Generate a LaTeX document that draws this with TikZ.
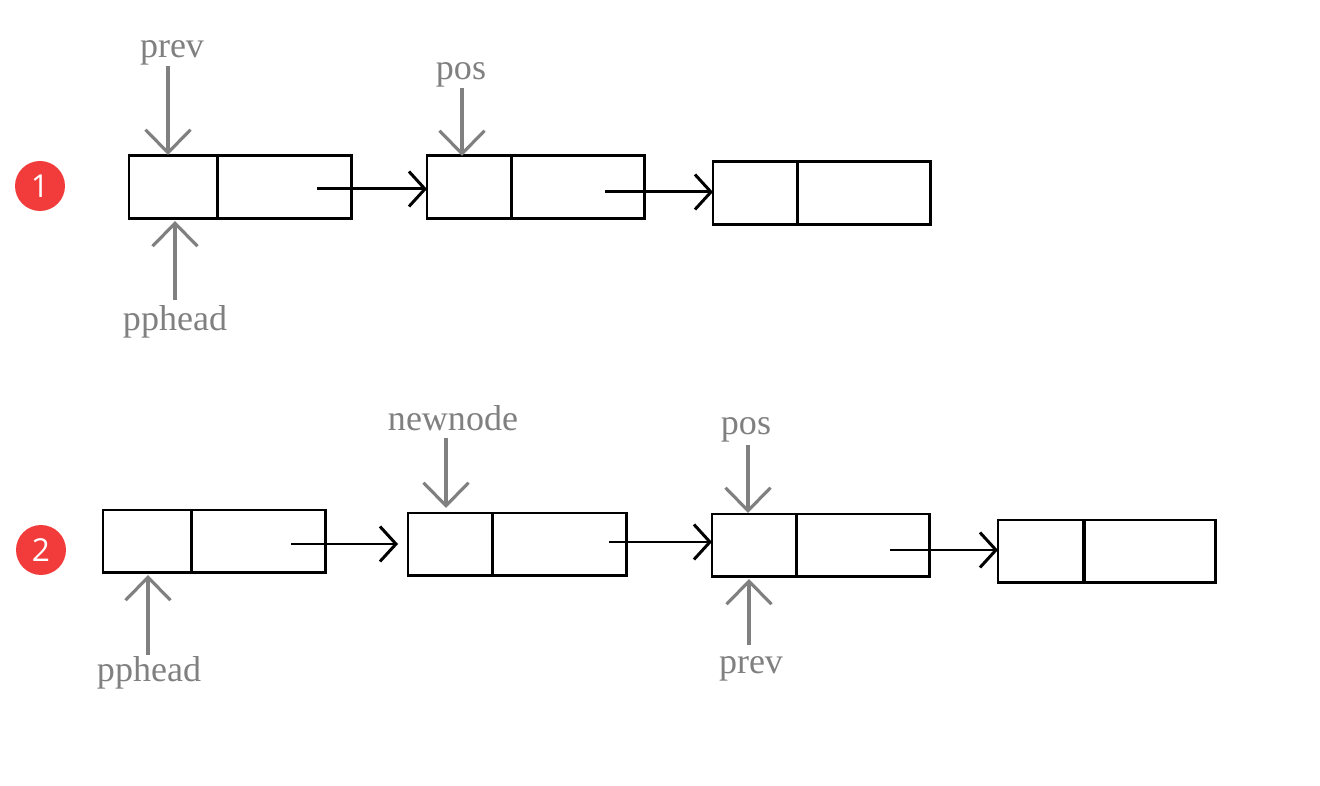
\documentclass[tikz,border=0pt]{standalone}
\usepackage{fontspec}
\setmainfont{Liberation Serif}
\newfontfamily\badgefont{Open Sans}
\usetikzlibrary{arrows.meta}
\definecolor{badgered}{RGB}{242,60,60}
\definecolor{lblgray}{RGB}{128,128,128}
\begin{document}
\begin{tikzpicture}[x=0.02cm,y=-0.02cm,
  cell/.style={draw, line width=1.7pt, inner sep=0pt, outer sep=0pt, anchor=north west, minimum height=1.26cm},
  link/.style={line width=1.7pt, -{Straight Barb[length=0.32cm,width=0.7cm]}},
  ptr/.style={draw=lblgray, line width=1.8pt, -{Straight Barb[length=0.46cm,width=0.9cm]}},
  lbl/.style={text=lblgray, font=\fontsize{20.5}{24}\selectfont, inner sep=1pt},
  badge/.style={circle, fill=badgered, minimum size=1cm, inner sep=0pt, text=white, font=\badgefont\fontsize{18}{20}\selectfont}]
\path[use as bounding box] (0,0) rectangle (1320,786);
% ---------- row 1 ----------
\node[badge] (b1) at (40,186) {1};
\node[cell, minimum width=1.78cm] (a0) at (129,156) {};
\node[cell, minimum width=2.68cm] (a1) at (218,156) {};
\node[cell, minimum width=1.70cm] (c0) at (427,156) {};
\node[cell, minimum width=2.66cm] (c1) at (512,156) {};
\node[cell, minimum width=1.70cm] (d0) at (713,162) {};
\node[cell, minimum width=2.66cm] (d1) at (798,162) {};
\coordinate (s1) at (317,189);
\coordinate (s2) at (605,192);
\draw[link] (s1) -- (s1 -| c0.west);
\draw[link] (s2) -- (s2 -| d0.west);
\node[lbl] (prev1) at (172,53) {prev};
\coordinate (prev1t) at (168,155);
\draw[ptr] (168,66) -- (prev1t);
\node[lbl] (pphead1) at (175,322) {pphead};
\coordinate (pphead1t) at (175,221);
\draw[ptr] (175,300) -- (pphead1t);
\node[lbl] (pos1) at (461,75) {pos};
\coordinate (pos1t) at (462,156);
\draw[ptr] (462,88) -- (pos1t);
% ---------- row 2 ----------
\node[badge] (b2) at (41,550) {2};
\node[cell, minimum width=1.78cm] (e0) at (103,510) {};
\node[cell, minimum width=2.68cm] (e1) at (192,510) {};
\node[cell, minimum width=1.70cm] (f0) at (408,513) {};
\node[cell, minimum width=2.68cm] (f1) at (493,513) {};
\node[cell, minimum width=1.70cm] (g0) at (712,514) {};
\node[cell, minimum width=2.66cm] (g1) at (797,514) {};
\node[cell, minimum width=1.72cm] (h0) at (998,520) {};
\node[cell, minimum width=2.64cm] (h1) at (1084,520) {};
\coordinate (s3) at (291,544);
\coordinate (s4) at (609,542);
\coordinate (s5) at (890,550);
\draw[link, shorten >=0.2cm] (s3) -- (s3 -| f0.west);
\draw[link] (s4) -- (s4 -| g0.west);
\draw[link] (s5) -- (s5 -| h0.west);
\node[lbl] (newnode) at (453,418) {newnode};
\coordinate (newnodet) at (446,508);
\draw[ptr] (446,438) -- (newnodet);
\node[lbl] (pos2) at (746,430) {pos};
\coordinate (pos2t) at (748,513);
\draw[ptr] (748,445) -- (pos2t);
\node[lbl] (prev2) at (751,669) {prev};
\coordinate (prev2t) at (749,579);
\draw[ptr] (749,645) -- (prev2t);
\node[lbl] (pphead2) at (149,673) {pphead};
\coordinate (pphead2t) at (148,575);
\draw[ptr] (148,655) -- (pphead2t);
\end{tikzpicture}
\end{document}
